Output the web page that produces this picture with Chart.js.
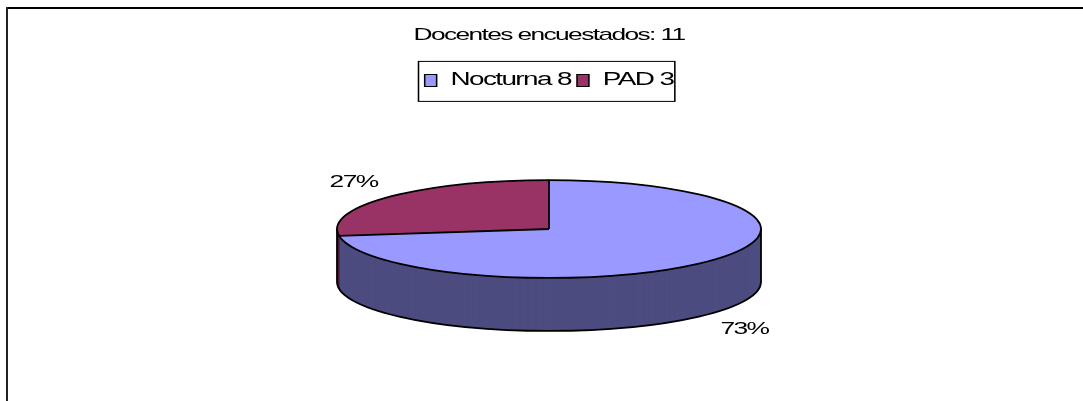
<!DOCTYPE html>
<html lang="es">
<head>
  <meta charset="UTF-8">
  <title>Docentes encuestados</title>
  <script src="https://cdn.jsdelivr.net/npm/chart.js"></script>
  <style>
    html, body { margin: 0; padding: 0; background: #fff; }
    .contenedor { position: relative; width: 1083px; height: 401px; }
  </style>
</head>
<body>
  <div class="contenedor">
    <canvas id="graficoTorta"></canvas>
  </div>

  <script>
    const titulo = 'Docentes encuestados: 11';
    const categorias = ['Nocturna', 'PAD'];
    const valores = [8, 3];

    const coloresCara = ['#9999ff', '#993366'];
    const coloresLado = ['#4c4c80', '#4c1a33'];

    // el original viene estirado a lo ancho: el texto se dibuja ensanchado y apretado
    const ESTIRAR = 1.55;
    const APRETAR = '-1.05px';
    const ACHATAR = 0.231;  // alto / ancho de la cara superior
    const GROSOR = 53;      // espesor del disco
    const CENTRO_X = 549;

    const total = valores.reduce((a, b) => a + b, 0);
    const etiquetas = categorias.map((c, i) => c + ' ' + valores[i]);

    function datosTorta(chart) {
      const arcos = chart.getDatasetMeta(0).data;
      const a0 = arcos[0];
      return {
        arcos,
        x: a0.x,
        r: a0.outerRadius,
        ry: a0.outerRadius * ACHATAR,
        yTop: a0.y - GROSOR * 0.4
      };
    }

    const torta3d = {
      id: 'torta3d',
      beforeLayout(chart) {
        chart.ctx.letterSpacing = APRETAR;
      },
      beforeDraw(chart) {
        const ctx = chart.ctx;
        ctx.letterSpacing = APRETAR;
        ctx.save();
        ctx.translate(CENTRO_X, 0);
        ctx.scale(ESTIRAR, 1);
        ctx.translate(-CENTRO_X, 0);
      },
      beforeDatasetsDraw(chart) {
        const ctx = chart.ctx;
        const { arcos, x, r, ry, yTop } = datosTorta(chart);

        ctx.save();
        ctx.setTransform(1, 0, 0, 1, 0, 0);

        const pintar = (arco, color, dy) => {
          const copia = Object.create(arco);
          copia.options = Object.assign({}, arco.options, { backgroundColor: color, borderWidth: 0 });
          ctx.save();
          ctx.translate(x, yTop + dy);
          ctx.scale(1, ACHATAR);
          ctx.translate(-x, -arco.y);
          copia.draw(ctx);
          ctx.restore();
        };

        // lado (capas de abajo hacia arriba) y luego la cara
        for (let d = GROSOR; d > 0; d--) {
          arcos.forEach((a, i) => pintar(a, coloresLado[i], d));
        }
        arcos.forEach((a, i) => pintar(a, coloresCara[i], 0));

        // bordes
        ctx.strokeStyle = '#000';
        ctx.lineWidth = 1.8;
        ctx.beginPath();
        ctx.moveTo(x - r, yTop);
        ctx.lineTo(x - r, yTop + GROSOR);
        ctx.ellipse(x, yTop + GROSOR, r, ry, 0, Math.PI, 0, true);
        ctx.lineTo(x + r, yTop);
        ctx.stroke();

        ctx.beginPath();
        ctx.ellipse(x, yTop, r, ry, 0, 0, Math.PI * 2);
        ctx.stroke();

        arcos.forEach(a => {
          ctx.beginPath();
          ctx.moveTo(x, yTop);
          ctx.lineTo(x + r * Math.cos(a.startAngle), yTop + ry * Math.sin(a.startAngle));
          ctx.stroke();
        });

        ctx.restore();
        return false;
      },
      afterDraw(chart) {
        const ctx = chart.ctx;

        // marco de la leyenda
        const cajas = chart.legend.legendHitBoxes;
        if (cajas.length) {
          const primera = cajas[0];
          const ultima = cajas[cajas.length - 1];
          ctx.save();
          ctx.strokeStyle = '#000';
          ctx.lineWidth = 1;
          ctx.strokeRect(primera.left - 4, primera.top - 10,
            ultima.left + ultima.width + 1 - (primera.left - 4), primera.height + 22);
          ctx.restore();
        }

        ctx.restore(); // fin del estirado

        // porcentajes
        const { arcos, x, r, ry, yTop } = datosTorta(chart);
        ctx.save();
        ctx.fillStyle = '#000';
        ctx.font = '17px "Liberation Sans", Arial, sans-serif';
        ctx.letterSpacing = APRETAR;
        ctx.textAlign = 'center';
        ctx.textBaseline = 'middle';
        arcos.forEach((a, i) => {
          const m = (a.startAngle + a.endAngle) / 2;
          const s = Math.sin(m);
          const lx = x + r * 1.22 * Math.cos(m);
          const ly = yTop + ry * 1.46 * s + (s > 0 ? GROSOR : 0);
          ctx.setTransform(ESTIRAR, 0, 0, 1, lx, ly);
          ctx.fillText(Math.round(valores[i] / total * 100) + '%', 0, 0);
        });
        ctx.restore();

        // marco exterior
        ctx.save();
        ctx.setTransform(1, 0, 0, 1, 0, 0);
        ctx.fillStyle = '#000';
        ctx.fillRect(6, 7, chart.width, 2);
        ctx.fillStyle = '#222';
        ctx.fillRect(6, 7, 2, chart.height);
        ctx.restore();
      }
    };

    const ctx = document.getElementById('graficoTorta').getContext('2d');

    new Chart(ctx, {
      type: 'pie',
      data: {
        labels: etiquetas,
        datasets: [{
          data: valores,
          backgroundColor: coloresCara,
          borderColor: '#000',
          borderWidth: 1,
          radius: 212
        }]
      },
      options: {
        responsive: true,
        maintainAspectRatio: false,
        animation: false,
        layout: { padding: { top: 10, left: 15, right: 0, bottom: 0 } },
        plugins: {
          title: {
            display: true,
            text: titulo,
            color: '#000',
            font: { family: '"Liberation Sans", Arial, sans-serif', size: 17, weight: 'normal' },
            padding: { top: 15, bottom: 22 }
          },
          legend: {
            position: 'top',
            labels: {
              color: '#000',
              font: { family: '"Liberation Sans", Arial, sans-serif', size: 18 },
              boxWidth: 7.7,
              boxHeight: 12,
              padding: 4
            }
          },
          tooltip: { enabled: false }
        }
      },
      plugins: [torta3d]
    });
  </script>
</body>
</html>
